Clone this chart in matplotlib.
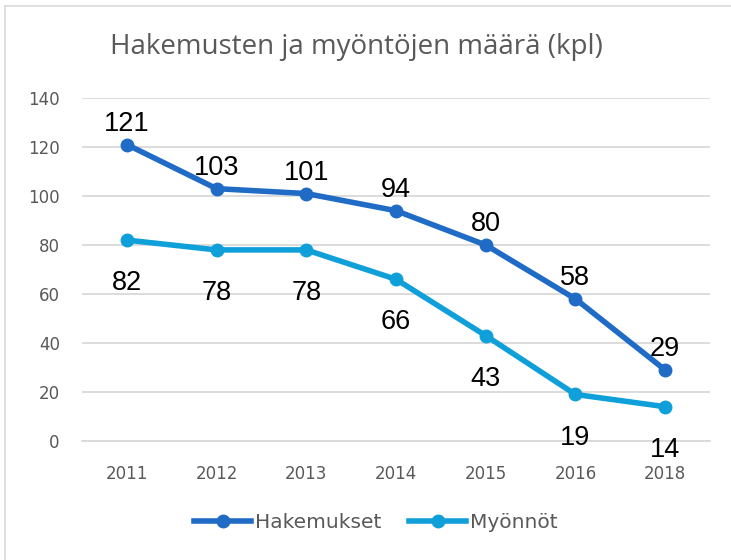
import matplotlib
matplotlib.use("Agg")
import matplotlib.pyplot as plt
from matplotlib.lines import Line2D

years = ["2011", "2012", "2013", "2014", "2015", "2016", "2018"]
hakemukset = [121, 103, 101, 94, 80, 58, 29]
myonnot = [82, 78, 78, 66, 43, 19, 14]
yticks = [0, 20, 40, 60, 80, 100, 120, 140]
title = "Hakemusten ja myöntöjen määrä (kpl)"

c_dark = "#1F6BC6"
c_light = "#0FA0DA"
gray = "#595959"

fig = plt.figure(figsize=(7.31, 5.6), dpi=100)
ax = fig.add_axes([82/731, 1-441/560, (710-82)/731, (441-98)/560])

x = list(range(len(years)))
ax.plot(x, hakemukset, color=c_dark, lw=4, marker="o", ms=9, solid_capstyle="round", zorder=3)
ax.plot(x, myonnot, color=c_light, lw=4, marker="o", ms=9, solid_capstyle="round", zorder=3)

for xi, v in zip(x, hakemukset):
    ax.annotate(str(v), (xi, v), xytext=(0, 15), textcoords="offset points",
                ha="center", va="center", fontsize=19.5, color="black", family="Liberation Sans")
for xi, v in zip(x, myonnot):
    ax.annotate(str(v), (xi, v), xytext=(0, -31), textcoords="offset points",
                ha="center", va="center", fontsize=19.5, color="black", family="Liberation Sans")

ax.set_xlim(-0.5, len(years)-0.5)
ax.set_ylim(0, 140)
ax.set_yticks(yticks)
ax.set_xticks(x)
ax.set_xticklabels(years)
ax.grid(axis="y", color="#D9D9D9", lw=1.3)
ax.set_axisbelow(True)
for s in ["top", "right", "left"]:
    ax.spines[s].set_visible(False)
ax.spines["bottom"].set_color("#D9D9D9")
ax.spines["bottom"].set_linewidth(1.3)
ax.tick_params(length=0, labelsize=12, labelcolor=gray)
ax.tick_params(axis="x", pad=17)
ax.tick_params(axis="y", pad=16)

fig.text(110/731, 1-47/560, title, fontsize=20, color=gray, va="center", ha="left",
         family="Open Sans")

handles = [Line2D([], [], color=c_dark, lw=4, marker="o", ms=9),
           Line2D([], [], color=c_light, lw=4, marker="o", ms=9)]
fig.legend(handles, ["Hakemukset", "Myönnöt"], loc="center", bbox_to_anchor=(376/731, 1-523/560),
           ncol=2, frameon=False, fontsize=14.5, labelcolor=gray, handlelength=2.8,
           handletextpad=0.2, columnspacing=1.4)

fig.add_artist(Line2D([5/731, 5/731], [0, 1-6/560], color="#D9D9D9", lw=1.2, transform=fig.transFigure))
fig.add_artist(Line2D([5/731, 1], [1-6/560, 1-6/560], color="#D9D9D9", lw=1.2, transform=fig.transFigure))

fig.savefig("out.png", dpi=100)
